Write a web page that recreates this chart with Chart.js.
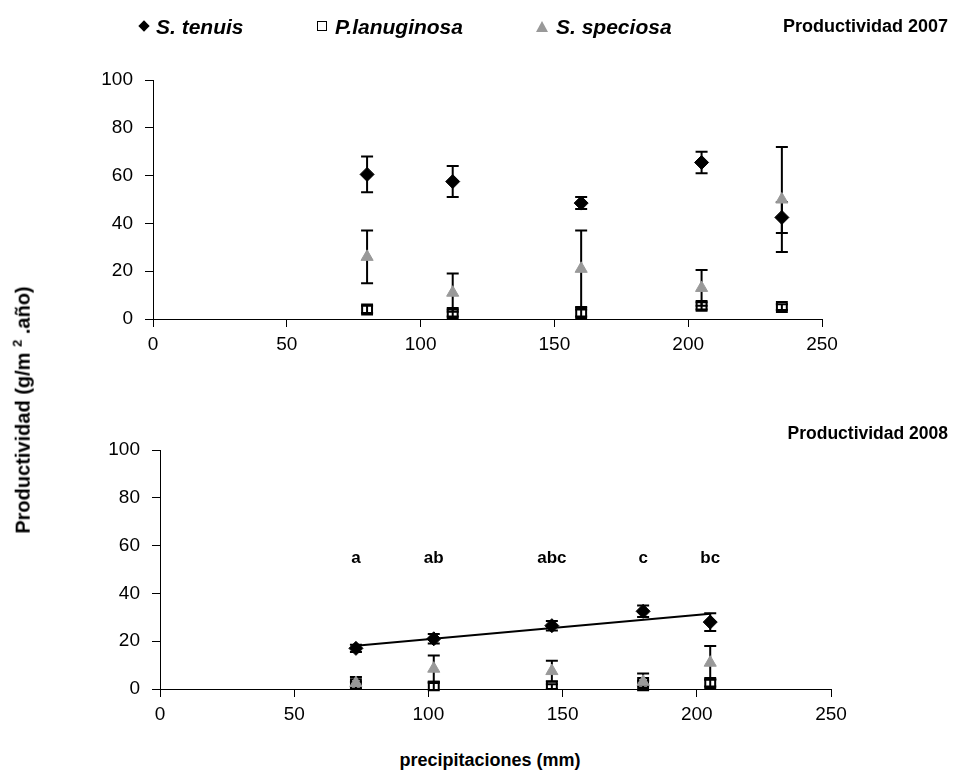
<!DOCTYPE html>
<html>
<head>
<meta charset="utf-8">
<script src="https://cdn.jsdelivr.net/npm/chart.js@4.4.1/dist/chart.umd.min.js"></script>
<style>
  body { margin: 0; background: #fff; width: 956px; height: 775px; position: relative; overflow: hidden;
         font-family: "Liberation Sans", Arial, sans-serif; color: #000; }
  canvas { position: absolute; left: 0; }
  #grafico1 { top: 0; }
  #grafico2 { top: 370px; }
  .txt { position: absolute; font-weight: bold; white-space: nowrap; }
  .leyenda { position: absolute; top: 15px; font-size: 21px; font-weight: bold; font-style: italic; white-space: nowrap; }
  .sym { display: inline-block; vertical-align: middle; margin-right: 8px; position: relative; top: -2px; }
  .rombo { width: 8px; height: 8px; background: #000; transform: rotate(45deg); }
  .cuadro { width: 8px; height: 8px; border: 1.5px solid #000; background: #fff; }
  .triang { width: 0; height: 0; border-left: 6px solid transparent; border-right: 6px solid transparent; border-bottom: 11px solid #999; }
  .letra { position: absolute; font-size: 17px; font-weight: bold; transform: translateX(-50%); top: 548px; }
</style>
</head>
<body>
<canvas id="grafico1" width="956" height="360"></canvas>
<canvas id="grafico2" width="956" height="360"></canvas>

<div class="leyenda" style="left:140px"><span class="sym rombo"></span>S. tenuis</div>
<div class="leyenda" style="left:317px"><span class="sym cuadro"></span>P.lanuginosa</div>
<div class="leyenda" style="left:536px"><span class="sym triang"></span>S. speciosa</div>
<div class="txt" style="right:8px; top:16px; font-size:18px;">Productividad 2007</div>
<div class="txt" style="right:8px; top:423px; font-size:17.5px;">Productividad 2008</div>
<div class="txt" style="left:490px; top:750px; font-size:18px; transform: translateX(-50%);">precipitaciones (mm)</div>
<div class="txt" style="left:22px; top:410px; font-size:20px; transform: translate(-50%,-50%) rotate(-90deg);">Productividad (g/m <sup style="font-size:13px">2</sup> .año)</div>

<script>
// datos 2007
const precip2007 = [80, 112, 160, 205, 235];
const tenuis2007 = [60.5, 57.5, 48.5, 65.5, 42.5];
const tenuisErr2007 = [7.5, 6.5, 2.5, 4.5, 6.5];
const lanug2007 = [4, 2.5, 2.5, 5.5, 5];
const lanugErr2007 = [1.5, 1.5, 1.5, 1.5, 1.2];
const speci2007 = [26, 11, 21, 13, 50];
const speciErr2007 = [11, 8, 16, 7.5, 22];

// datos 2008
const precip2008 = [73, 102, 146, 180, 205];
const tenuis2008 = [17, 21, 26.5, 32.5, 28];
const tenuisErr2008 = [1.5, 2, 2, 2.4, 3.7];
const lanug2008 = [2, 1, 1, 2.5, 2.5];
const lanugErr2008 = [1, 1.5, 1, 1, 1.5];
const speci2008 = [2.5, 8.5, 7.5, 3, 11];
const speciErr2008 = [2.5, 5.5, 4.3, 3.5, 7];
const letras2008 = ['a', 'ab', 'abc', 'c', 'bc'];

const ejeX = [0, 50, 100, 150, 200, 250];
const ejeY = [0, 20, 40, 60, 80, 100];

function puntos(xs, ys) {
    return xs.map((x, i) => ({ x: x, y: ys[i] }));
}

// recta de regresion de S. tenuis 2008
function regresion(xs, ys) {
    const n = xs.length;
    const mx = xs.reduce((a, b) => a + b, 0) / n;
    const my = ys.reduce((a, b) => a + b, 0) / n;
    let sxy = 0, sxx = 0;
    xs.forEach((x, i) => { sxy += (x - mx) * (ys[i] - my); sxx += (x - mx) * (x - mx); });
    const m = sxy / sxx;
    const b = my - m * mx;
    const x0 = Math.min(...xs), x1 = Math.max(...xs);
    return [{ x: x0, y: m * x0 + b }, { x: x1, y: m * x1 + b }];
}

// barras de error, dibujadas antes de los marcadores
const barrasError = {
    id: 'barrasError',
    beforeDatasetsDraw(chart) {
        const ctx = chart.ctx;
        const xs = chart.scales.x, ys = chart.scales.y;
        ctx.save();
        ctx.strokeStyle = '#000';
        ctx.lineWidth = 2;
        chart.data.datasets.forEach(ds => {
            if (!ds.errores) return;
            ds.data.forEach((p, i) => {
                const e = ds.errores[i];
                const px = xs.getPixelForValue(p.x);
                const yA = ys.getPixelForValue(p.y + e);
                const yB = ys.getPixelForValue(p.y - e);
                ctx.beginPath();
                ctx.moveTo(px, yA); ctx.lineTo(px, yB);
                ctx.moveTo(px - 6, yA); ctx.lineTo(px + 6, yA);
                ctx.moveTo(px - 6, yB); ctx.lineTo(px + 6, yB);
                ctx.stroke();
            });
        });
        ctx.restore();
    }
};

function series(xs, t, te, l, le, s, se) {
    return [
        { label: 'S. tenuis', data: puntos(xs, t), errores: te, pointStyle: 'rectRot', pointRadius: 7,
          backgroundColor: '#000', borderColor: '#000', borderWidth: 1, order: 2 },
        { label: 'P.lanuginosa', data: puntos(xs, l), errores: le, pointStyle: 'rect', pointRadius: 7,
          backgroundColor: 'rgba(0,0,0,0)', borderColor: '#000', borderWidth: 2, order: 1 },
        { label: 'S. speciosa', data: puntos(xs, s), errores: se, pointStyle: 'triangle', pointRadius: 7,
          backgroundColor: '#999', borderColor: '#999', borderWidth: 1, order: 0 }
    ];
}

function opciones(anchoY, padDer) {
    return {
        responsive: false,
        animation: false,
        devicePixelRatio: 1,
        events: [],
        layout: { padding: { top: 80, right: padDer, left: 0, bottom: 0 } },
        plugins: { legend: { display: false }, tooltip: { enabled: false } },
        scales: {
            x: {
                type: 'linear', min: ejeX[0], max: ejeX[ejeX.length - 1],
                afterBuildTicks: ax => { ax.ticks = ejeX.map(v => ({ value: v })); },
                afterFit: ax => { ax.height = 41; },
                grid: { drawOnChartArea: false, color: '#000', tickLength: 8 },
                border: { color: '#000', width: 1 },
                ticks: { color: '#000', padding: 6, font: { family: 'Liberation Sans', size: 19 } }
            },
            y: {
                type: 'linear', min: ejeY[0], max: ejeY[ejeY.length - 1],
                afterBuildTicks: ax => { ax.ticks = ejeY.map(v => ({ value: v })); },
                afterFit: ax => { ax.width = anchoY; },
                grid: { drawOnChartArea: false, color: '#000', tickLength: 8 },
                border: { color: '#000', width: 1 },
                ticks: { color: '#000', padding: 12, font: { family: 'Liberation Sans', size: 19 } }
            }
        }
    };
}

const grafico1 = new Chart(document.getElementById('grafico1'), {
    type: 'scatter',
    data: { datasets: series(precip2007, tenuis2007, tenuisErr2007, lanug2007, lanugErr2007, speci2007, speciErr2007) },
    options: opciones(153, 134),
    plugins: [barrasError]
});

const datos2008 = series(precip2008, tenuis2008, tenuisErr2008, lanug2008, lanugErr2008, speci2008, speciErr2008);
datos2008.push({
    type: 'line', label: 'tendencia', data: regresion(precip2008, tenuis2008),
    borderColor: '#000', borderWidth: 2, pointRadius: 0, fill: false, order: 3
});

const grafico2 = new Chart(document.getElementById('grafico2'), {
    type: 'scatter',
    data: { datasets: datos2008 },
    options: opciones(160, 125),
    plugins: [barrasError]
});

// letras de significancia sobre cada precipitacion
letras2008.forEach((l, i) => {
    const d = document.createElement('div');
    d.className = 'letra';
    d.textContent = l;
    d.style.left = grafico2.scales.x.getPixelForValue(precip2008[i]) + 'px';
    document.body.appendChild(d);
});
</script>
</body>
</html>
